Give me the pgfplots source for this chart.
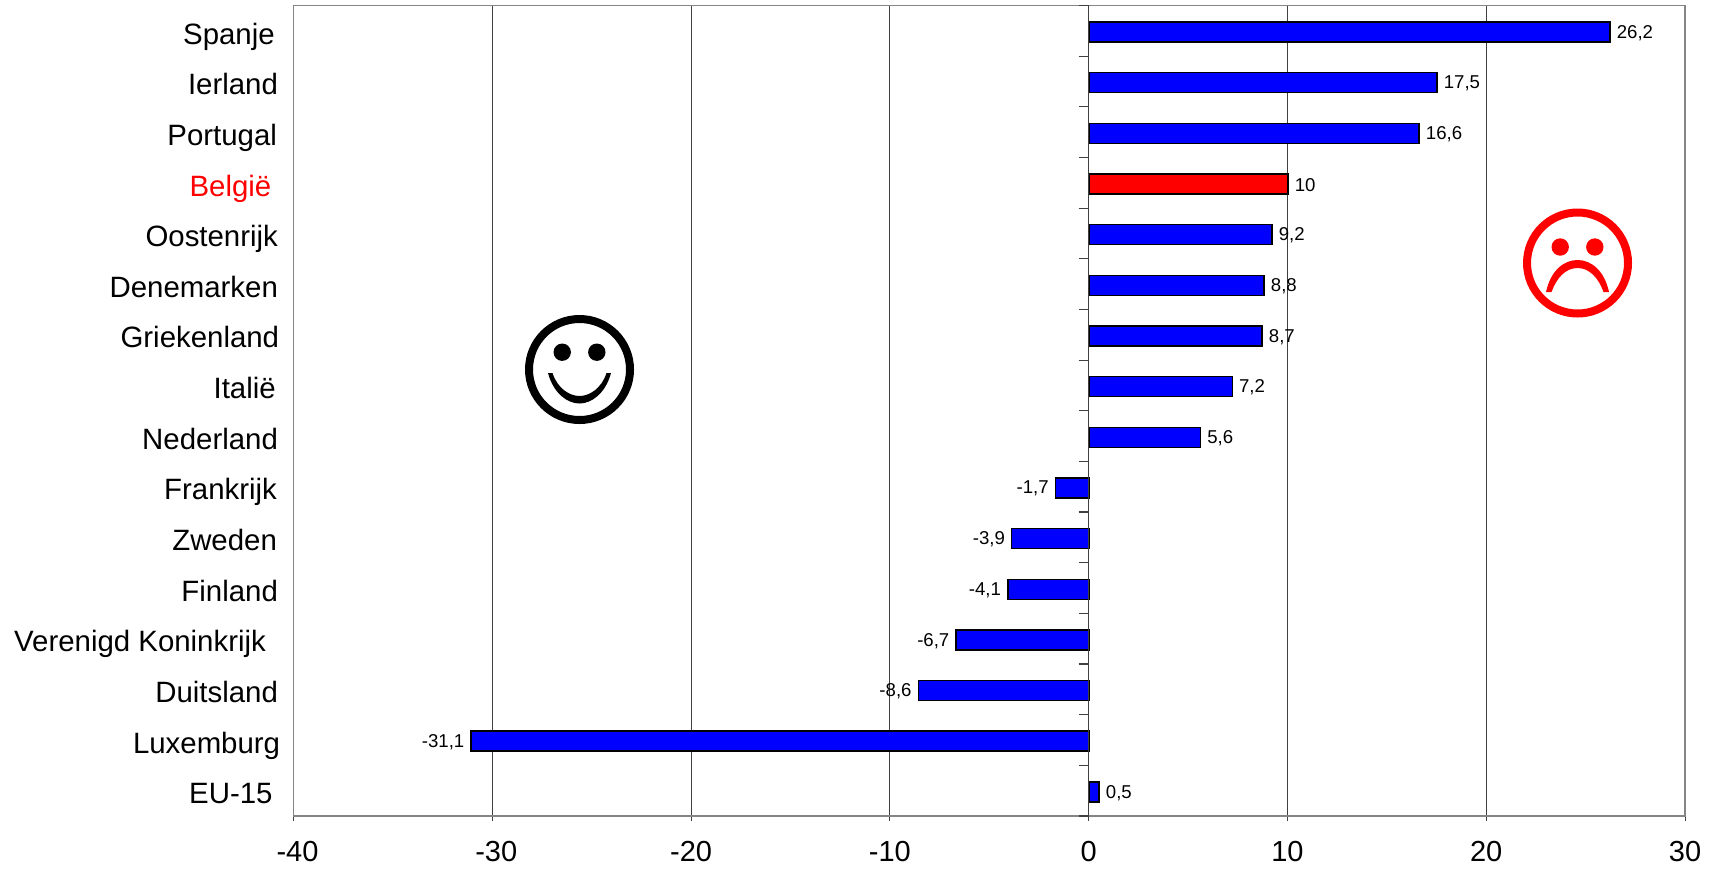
\documentclass[border=0pt]{standalone}
\usepackage{fontspec}
\setmainfont{Liberation Sans}
\usepackage{pgfplots}
\pgfplotsset{compat=1.18}
\definecolor{frame}{HTML}{858585}
\definecolor{gridc}{HTML}{404040}
\definecolor{barblue}{HTML}{0000FF}
\definecolor{barred}{HTML}{FF0000}
\pgfplotsset{common/.style={
  scale only axis, width=695.75pt, height=405.25pt,
  xmin=-40, xmax=30, ymin=0.5, ymax=16.5, y dir=reverse,
  at={(146.75pt,-408pt)}, anchor=south west}}
\begin{document}
\begin{tikzpicture}
\useasboundingbox (0,0) rectangle (858pt,-434pt);
\begin{axis}[common,
  xbar, bar shift=-0.6pt, bar width=10pt,
  axis line style={frame, line width=0.75pt},
  xtick={-40,-30,-20,-10,0,10,20,30},
  xticklabels={{\hspace*{4pt}-40},{\hspace*{4pt}-30},{-20},{-10},0,10,20,30},
  x tick style={gridc, line width=0.5pt},
  tick align=outside,
  xtick pos=bottom, ytick pos=left,
  major tick length=2.5pt,
  x tick label style={font=\fontsize{14.5}{17}\selectfont, yshift=-6.5pt},
  xmajorgrids, grid style={gridc, line width=0.5pt},
  ytick={1,...,16},
  y tick style={draw=none},
  y tick label style={font=\fontsize{14.7}{17}\selectfont, anchor=base east, inner sep=0pt, xshift=-4pt, yshift=-6.6pt},
  yticklabels={{Spanje\hspace*{2.7pt}},{Ierland\hspace*{1.1pt}},{Portugal\hspace*{1.6pt}},{\textcolor{red}{België}\hspace*{4.4pt}},{Oostenrijk\hspace*{1.1pt}},{Denemarken\hspace*{1.1pt}},{Griekenland\hspace*{.5pt}},{Italië\hspace*{2.2pt}},{Nederland\hspace*{1.1pt}},{Frankrijk\hspace*{1.6pt}},{Zweden\hspace*{1.6pt}},{Finland\hspace*{1.1pt}},{Verenigd Koninkrijk\hspace*{7.1pt}},{Duitsland\hspace*{1.1pt}},{Luxemburg},{EU-15\hspace*{3.8pt}}},
  point meta=explicit symbolic,
  nodes near coords,
  nodes near coords style={font=\fontsize{9.3}{11}\selectfont, text=black, inner sep=3pt, yshift=-0.4pt},
]
\addplot[draw=black, line width=0.75pt, fill=barblue, xshift=0.3pt, every node near coord/.append style={anchor=west}] coordinates {
 (26.2,1) [26,2] (17.5,2) [17,5] (16.6,3) [16,6] (9.2,5) [9,2] (8.8,6) [8,8] (8.7,7) [8,7] (7.2,8) [7,2] (5.6,9) [5,6] (0.5,16) [0,5]};
\addplot[draw=black, line width=0.75pt, fill=barblue, xshift=0.3pt, every node near coord/.append style={anchor=east}] coordinates {
 (-1.7,10) [-1,7] (-3.9,11) [-3,9] (-4.1,12) [-4,1] (-6.7,13) [-6,7] (-8.6,14) [-8,6] (-31.1,15) [-31,1]};
\addplot[draw=black, line width=0.75pt, fill=barred, xshift=0.3pt, every node near coord/.append style={anchor=west}] coordinates {(10,4) [10]};
\end{axis}
\begin{axis}[common,
  axis x line=none, axis y line=middle,
  axis line style={-, gridc, line width=0.75pt},
  ytick={0.5,1.5,...,16.5},
  yticklabels={},
  y tick style={gridc, line width=0.6pt},
  tick align=outside, major tick length=5pt,
]
\end{axis}
% smileys, drawn in reference pixel coordinates
\begin{scope}[x=.5pt,y=-.5pt]
 \begin{scope}[shift={(579.5,369.5)}]
  \draw[black, line width=4pt] (0,0) circle (50.5);
  \fill[black] (-17.3,-17.3) circle (8.7) (17.3,-17.3) circle (8.7);
  \fill[black] (-31.5,3.5) .. controls (-26,24) and (-12,34) .. (0,34) .. controls (12,34) and (26,24) .. (31.5,3.5)
    -- (27,3.5) .. controls (22,19) and (10,26.5) .. (0,26.5) .. controls (-10,26.5) and (-22,19) .. (-27,3.5) -- cycle;
 \end{scope}
 \begin{scope}[shift={(1577.5,263)}]
  \draw[barred, line width=4pt] (0,0) circle (50.5);
  \fill[barred] (-17.3,-16) circle (8.7) (17.3,-16) circle (8.7);
  \fill[barred] (-31.5,29) .. controls (-27,8) and (-14,-3) .. (0,-3) .. controls (14,-3) and (27,8) .. (31.5,29)
    -- (26,29) .. controls (21,15) and (12,5) .. (0,5) .. controls (-12,5) and (-21,15) .. (-26,29) -- cycle;
 \end{scope}
\end{scope}
\end{tikzpicture}
\end{document}
